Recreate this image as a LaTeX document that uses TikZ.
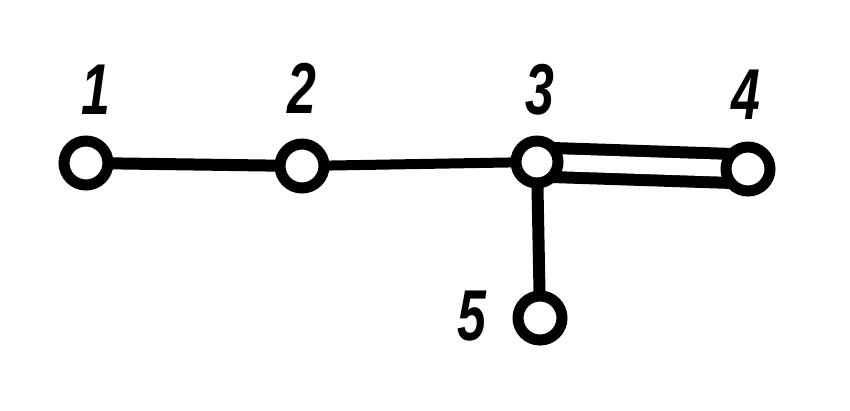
\documentclass[tikz,border=0pt]{standalone}
\usepackage{fontspec}
\setmainfont{Liberation Sans}
\usetikzlibrary{backgrounds}
\tikzset{
  vtx/.style={circle, draw=black, fill=white, line width=11pt, minimum size=44pt, inner sep=0pt},
  lbl/.style={inner sep=0pt, font=\fontsize{72}{72}\selectfont\bfseries\itshape},
  edge/.style={line width=12pt, black},
  dbl/.style={line width=12pt, double=white, double distance=17pt, black}
}
\begin{document}
\begin{tikzpicture}[x=1pt, y=-1pt]
\useasboundingbox (0,0) rectangle (850,410);
\node[vtx] (n1) at (86,163) {};
\node[vtx] (n2) at (302,166) {};
\node[vtx, minimum size=42pt] (n3) at (537,162) {};
\node[vtx] (n4) at (748,169) {};
\node[vtx] (n5) at (540,318) {};
\node[lbl] (l1) at (96,90) {\scalebox{0.72}[1]{1}};
\node[lbl] (l2) at (302,88) {\scalebox{0.72}[1]{2}};
\node[lbl] (l3) at (540,90) {\scalebox{0.72}[1]{3}};
\node[lbl] (l4) at (746,95) {\scalebox{0.72}[1]{4}};
\node[lbl] (l5) at (472,316) {\scalebox{0.72}[1]{5}};
\begin{scope}[on background layer]
\draw[edge] (n1.center) -- (n2.center);
\draw[edge, line width=10pt] (n2.center) -- (n3.center);
\draw[edge] (n3.center) -- (n5.center);
\draw[dbl] (n3.center) -- (n4.center);
\end{scope}
\end{tikzpicture}
\end{document}
